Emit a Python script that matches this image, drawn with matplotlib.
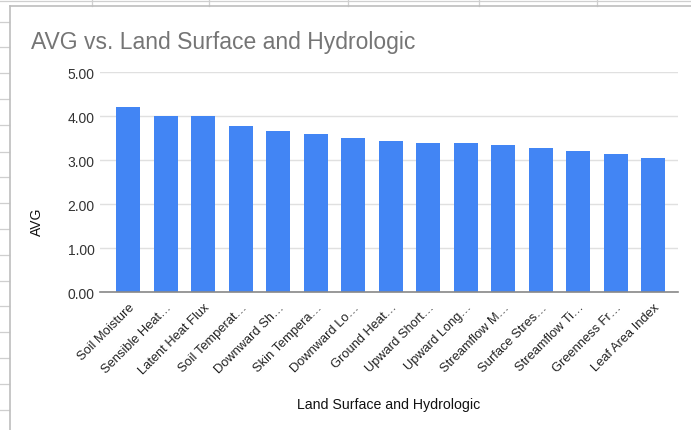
import matplotlib.pyplot as plt
from matplotlib.lines import Line2D

# data
categories = ['Soil Moisture', 'Sensible Heat…', 'Latent Heat Flux', 'Soil Temperat…',
              'Downward Sh…', 'Skin Tempera…', 'Downward Lo…', 'Ground Heat…',
              'Upward Short…', 'Upward Long…', 'Streamflow M…', 'Surface Stres…',
              'Streamflow Ti…', 'Greenness Fr…', 'Leaf Area Index']
avg = [4.21, 4.00, 4.00, 3.77, 3.66, 3.59, 3.50, 3.43,
       3.40, 3.40, 3.35, 3.27, 3.22, 3.14, 3.06]
yticks = [0, 1, 2, 3, 4, 5]

plt.rcParams['font.family'] = ['Liberation Sans', 'DejaVu Sans']

W, H = 691, 431
fig = plt.figure(figsize=(W / 100, H / 100), dpi=100)


def px_line(x0, y0, x1, y1, color='#cfcfcf', lw=0.9):
    # line in pixel coords (top-left origin)
    fig.add_artist(Line2D([x0 / W, x1 / W], [1 - y0 / H, 1 - y1 / H],
                          transform=fig.transFigure, color=color, lw=lw))


# spreadsheet grid behind the chart card
px_line(0, 2, W, 2)
for x in [92, 209, 348, 479, 597]:
    px_line(x, 0, x, 7)
for y in [22.7, 48.3, 74, 100, 126, 152.7, 178, 204, 230, 256, 282, 307, 333, 359, 385, 411]:
    px_line(0, y, 9, y)
# chart card border
px_line(10, 7, W, 7, color='#bdbdbd', lw=1.2)
px_line(10, 7, 10, H, color='#bdbdbd', lw=1.2)

ax = fig.add_axes([100 / W, 1 - 293.3 / H, 578 / W, 220 / H])
x = range(len(categories))
ax.bar(x, avg, width=0.64, color='#4285F4', zorder=3)

ax.set_ylim(0, 5)
ax.set_xlim(-0.75, 14.66)
ax.set_yticks(yticks)
ax.set_yticklabels(['%.2f' % v for v in yticks], fontsize=10, color='#333333')
ax.set_xticks(list(x))
ax.set_xticklabels(categories, rotation=45, ha='right', rotation_mode='anchor',
                   fontsize=9.3, color='#222222')
ax.tick_params(axis='both', length=0)
ax.tick_params(axis='y', pad=4)
ax.tick_params(axis='x', pad=6)

ax.grid(axis='y', color='#e0e0e0', lw=1, zorder=0)
for s in ['top', 'right', 'left']:
    ax.spines[s].set_visible(False)
ax.spines['bottom'].set_color('#888888')
ax.spines['bottom'].set_linewidth(1.2)
ax.spines['bottom'].set_zorder(4)

fig.text(31 / W, 1 - 42 / H, 'AVG vs. Land Surface and Hydrologic', fontsize=16.5,
         color='#757575', va='center', ha='left')
fig.text(37 / W, 1 - 222 / H, 'AVG', rotation=90, fontsize=10, color='#111111',
         va='center', ha='center')
fig.text(389 / W, 1 - 405 / H, 'Land Surface and Hydrologic', fontsize=10.2,
         color='#111111', va='center', ha='center')

fig.savefig('out.png', dpi=100)
